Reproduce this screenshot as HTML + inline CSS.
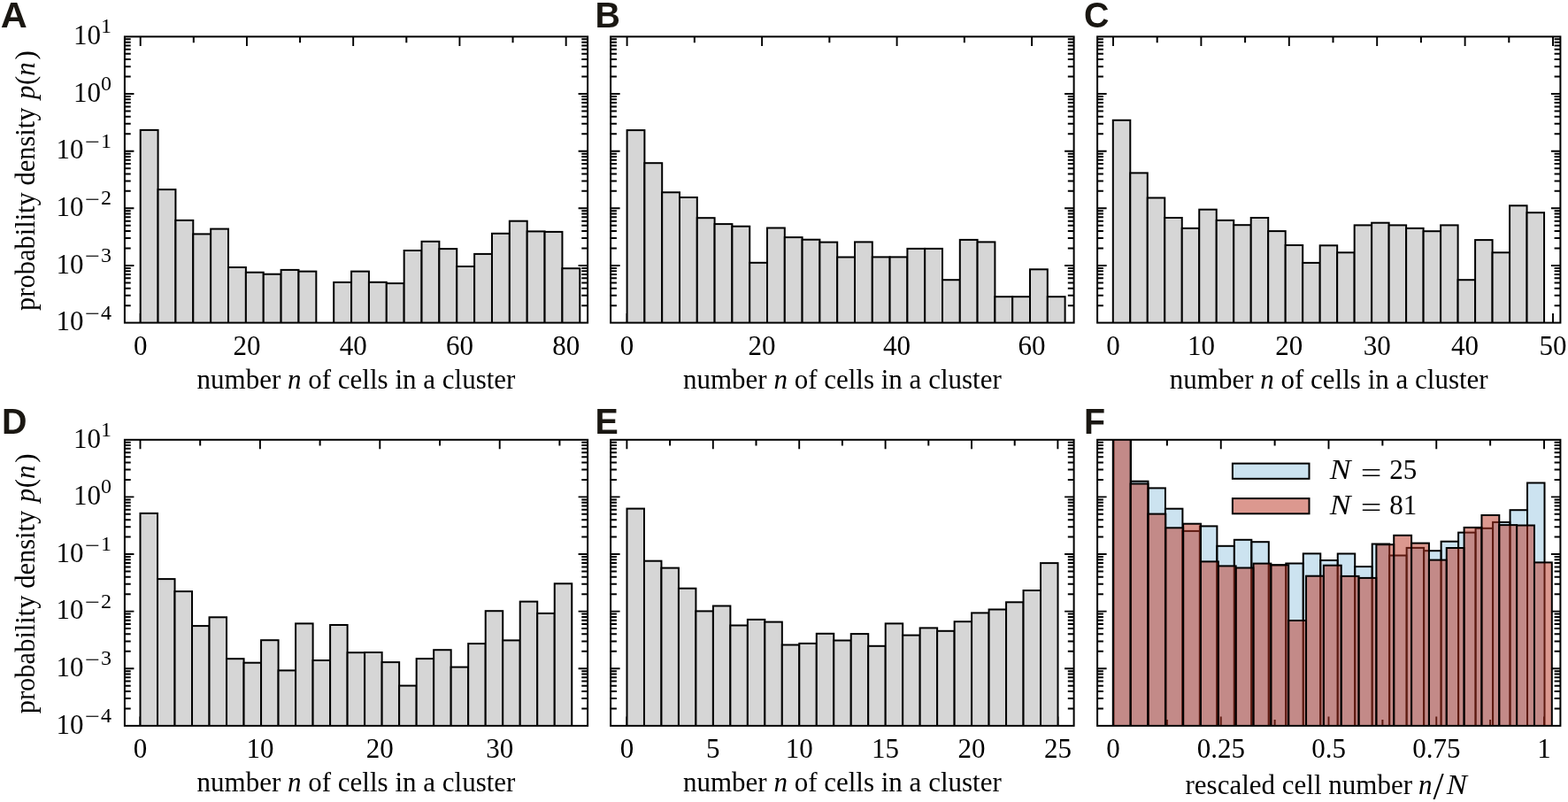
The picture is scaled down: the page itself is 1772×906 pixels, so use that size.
<!DOCTYPE html>
<html><head><meta charset="utf-8"><title>Cluster size distributions</title>
<style>
html,body{margin:0;padding:0;background:#fff;}
body{width:1772px;height:906px;overflow:hidden;}
svg{display:block;}
.t{font-family:'Liberation Serif', 'DejaVu Serif', serif;font-size:31.0px;fill:#000;}
.i{font-style:italic;}
.s{font-family:'Liberation Serif', 'DejaVu Serif', serif;font-size:24.0px;fill:#000;}
.L{font-family:'Liberation Sans', Arial, sans-serif;font-weight:bold;font-size:41.5px;fill:#1a1712;}
</style></head>
<body>
<svg width="1772" height="906" viewBox="0 0 1772 906">
<rect width="1772" height="906" fill="#fff"/>
<clipPath id="clipA"><rect x="140.9" y="41.4" width="523.2" height="323.2"/></clipPath>
<path d="M158.7 41.4v10.5M158.7 364.6v-10.5M278.94 41.4v10.5M278.94 364.6v-10.5M399.18 41.4v10.5M399.18 364.6v-10.5M519.42 41.4v10.5M519.42 364.6v-10.5M639.66 41.4v10.5M639.66 364.6v-10.5" stroke="#000" stroke-width="1.9" fill="none"/>
<path d="M218.82 41.4v6.8M218.82 364.6v-6.8M339.06 41.4v6.8M339.06 364.6v-6.8M459.3 41.4v6.8M459.3 364.6v-6.8M579.54 41.4v6.8M579.54 364.6v-6.8M140.9 345.14h6.8M664.1 345.14h-6.8M140.9 333.76h6.8M664.1 333.76h-6.8M140.9 325.68h6.8M664.1 325.68h-6.8M140.9 319.42h6.8M664.1 319.42h-6.8M140.9 314.3h6.8M664.1 314.3h-6.8M140.9 309.97h6.8M664.1 309.97h-6.8M140.9 306.22h6.8M664.1 306.22h-6.8M140.9 302.92h6.8M664.1 302.92h-6.8M140.9 280.5h6.8M664.1 280.5h-6.8M140.9 269.12h6.8M664.1 269.12h-6.8M140.9 261.04h6.8M664.1 261.04h-6.8M140.9 254.78h6.8M664.1 254.78h-6.8M140.9 249.66h6.8M664.1 249.66h-6.8M140.9 245.33h6.8M664.1 245.33h-6.8M140.9 241.58h6.8M664.1 241.58h-6.8M140.9 238.28h6.8M664.1 238.28h-6.8M140.9 215.86h6.8M664.1 215.86h-6.8M140.9 204.48h6.8M664.1 204.48h-6.8M140.9 196.4h6.8M664.1 196.4h-6.8M140.9 190.14h6.8M664.1 190.14h-6.8M140.9 185.02h6.8M664.1 185.02h-6.8M140.9 180.69h6.8M664.1 180.69h-6.8M140.9 176.94h6.8M664.1 176.94h-6.8M140.9 173.64h6.8M664.1 173.64h-6.8M140.9 151.22h6.8M664.1 151.22h-6.8M140.9 139.84h6.8M664.1 139.84h-6.8M140.9 131.76h6.8M664.1 131.76h-6.8M140.9 125.5h6.8M664.1 125.5h-6.8M140.9 120.38h6.8M664.1 120.38h-6.8M140.9 116.05h6.8M664.1 116.05h-6.8M140.9 112.3h6.8M664.1 112.3h-6.8M140.9 109h6.8M664.1 109h-6.8M140.9 86.58h6.8M664.1 86.58h-6.8M140.9 75.2h6.8M664.1 75.2h-6.8M140.9 67.12h6.8M664.1 67.12h-6.8M140.9 60.86h6.8M664.1 60.86h-6.8M140.9 55.74h6.8M664.1 55.74h-6.8M140.9 51.41h6.8M664.1 51.41h-6.8M140.9 47.66h6.8M664.1 47.66h-6.8M140.9 44.36h6.8M664.1 44.36h-6.8" stroke="#000" stroke-width="2.0" fill="none"/>
<path d="M140.9 299.96h10.5M664.1 299.96h-10.5M140.9 235.32h10.5M664.1 235.32h-10.5M140.9 170.68h10.5M664.1 170.68h-10.5M140.9 106.04h10.5M664.1 106.04h-10.5" stroke="#000" stroke-width="1.9" fill="none"/>
<g clip-path="url(#clipA)">
<rect x="158.7" y="146.9" width="19.86" height="222.7" fill="#d6d6d6" stroke="#000" stroke-width="2.0"/>
<rect x="178.56" y="214.1" width="19.86" height="155.5" fill="#d6d6d6" stroke="#000" stroke-width="2.0"/>
<rect x="198.43" y="248.9" width="19.86" height="120.7" fill="#d6d6d6" stroke="#000" stroke-width="2.0"/>
<rect x="218.29" y="264.4" width="19.86" height="105.2" fill="#d6d6d6" stroke="#000" stroke-width="2.0"/>
<rect x="238.16" y="258.6" width="19.86" height="111" fill="#d6d6d6" stroke="#000" stroke-width="2.0"/>
<rect x="258.02" y="302" width="19.86" height="67.6" fill="#d6d6d6" stroke="#000" stroke-width="2.0"/>
<rect x="277.88" y="307.7" width="19.86" height="61.9" fill="#d6d6d6" stroke="#000" stroke-width="2.0"/>
<rect x="297.75" y="309.7" width="19.86" height="59.9" fill="#d6d6d6" stroke="#000" stroke-width="2.0"/>
<rect x="317.61" y="304.9" width="19.86" height="64.7" fill="#d6d6d6" stroke="#000" stroke-width="2.0"/>
<rect x="337.48" y="306.6" width="19.86" height="63" fill="#d6d6d6" stroke="#000" stroke-width="2.0"/>
<rect x="377.2" y="318.9" width="19.86" height="50.7" fill="#d6d6d6" stroke="#000" stroke-width="2.0"/>
<rect x="397.07" y="306.6" width="19.86" height="63" fill="#d6d6d6" stroke="#000" stroke-width="2.0"/>
<rect x="416.93" y="318.8" width="19.86" height="50.8" fill="#d6d6d6" stroke="#000" stroke-width="2.0"/>
<rect x="436.8" y="320.1" width="19.86" height="49.5" fill="#d6d6d6" stroke="#000" stroke-width="2.0"/>
<rect x="456.66" y="283" width="19.86" height="86.6" fill="#d6d6d6" stroke="#000" stroke-width="2.0"/>
<rect x="476.52" y="272.8" width="19.86" height="96.8" fill="#d6d6d6" stroke="#000" stroke-width="2.0"/>
<rect x="496.39" y="281.1" width="19.86" height="88.5" fill="#d6d6d6" stroke="#000" stroke-width="2.0"/>
<rect x="516.25" y="301" width="19.86" height="68.6" fill="#d6d6d6" stroke="#000" stroke-width="2.0"/>
<rect x="536.12" y="286.9" width="19.86" height="82.7" fill="#d6d6d6" stroke="#000" stroke-width="2.0"/>
<rect x="555.98" y="263.8" width="19.86" height="105.8" fill="#d6d6d6" stroke="#000" stroke-width="2.0"/>
<rect x="575.84" y="249.7" width="19.86" height="119.9" fill="#d6d6d6" stroke="#000" stroke-width="2.0"/>
<rect x="595.71" y="261.4" width="19.86" height="108.2" fill="#d6d6d6" stroke="#000" stroke-width="2.0"/>
<rect x="615.57" y="261.9" width="19.86" height="107.7" fill="#d6d6d6" stroke="#000" stroke-width="2.0"/>
<rect x="635.44" y="303.2" width="19.86" height="66.4" fill="#d6d6d6" stroke="#000" stroke-width="2.0"/>
</g>
<rect x="140.9" y="41.4" width="523.2" height="323.2" fill="none" stroke="#000" stroke-width="2.0"/>
<text x="158.7" y="400.8" text-anchor="middle" class="t">0</text>
<text x="278.94" y="400.8" text-anchor="middle" class="t">20</text>
<text x="399.18" y="400.8" text-anchor="middle" class="t">40</text>
<text x="519.42" y="400.8" text-anchor="middle" class="t">60</text>
<text x="639.66" y="400.8" text-anchor="middle" class="t">80</text>
<text x="402.5" y="439" text-anchor="middle" class="t">number <tspan class="i">n</tspan> of cells in a cluster</text>
<text x="63.6" y="373.3" class="t">10</text>
<text transform="translate(96.0 362.1) scale(1.25 1)" class="s">−</text>
<text x="114.1" y="360.5" class="s">4</text>
<text x="63.6" y="308.66" class="t">10</text>
<text transform="translate(96.0 297.46) scale(1.25 1)" class="s">−</text>
<text x="114.1" y="295.86" class="s">3</text>
<text x="63.6" y="244.02" class="t">10</text>
<text transform="translate(96.0 232.82) scale(1.25 1)" class="s">−</text>
<text x="114.1" y="231.22" class="s">2</text>
<text x="63.6" y="179.38" class="t">10</text>
<text transform="translate(96.0 168.18) scale(1.25 1)" class="s">−</text>
<text x="114.1" y="166.58" class="s">1</text>
<text x="83.1" y="114.74" class="t">10</text>
<text x="114.1" y="101.94" class="s">0</text>
<text x="83.1" y="50.1" class="t">10</text>
<text x="114.1" y="37.3" class="s">1</text>
<text transform="translate(38.8 351) rotate(-90)" class="t"><tspan style="font-size:30.5px">probability density </tspan><tspan class="i" dx="1.9">p</tspan><tspan dx="0.4">(</tspan><tspan class="i">n</tspan><tspan dx="2.8">)</tspan></text>
<clipPath id="clipB"><rect x="690.1" y="41.4" width="523.5" height="323.2"/></clipPath>
<path d="M708.6 41.4v10.5M708.6 364.6v-10.5M861.1 41.4v10.5M861.1 364.6v-10.5M1013.6 41.4v10.5M1013.6 364.6v-10.5M1166.1 41.4v10.5M1166.1 364.6v-10.5" stroke="#000" stroke-width="1.9" fill="none"/>
<path d="M784.85 41.4v6.8M784.85 364.6v-6.8M937.35 41.4v6.8M937.35 364.6v-6.8M1089.85 41.4v6.8M1089.85 364.6v-6.8M690.1 345.14h6.8M1213.6 345.14h-6.8M690.1 333.76h6.8M1213.6 333.76h-6.8M690.1 325.68h6.8M1213.6 325.68h-6.8M690.1 319.42h6.8M1213.6 319.42h-6.8M690.1 314.3h6.8M1213.6 314.3h-6.8M690.1 309.97h6.8M1213.6 309.97h-6.8M690.1 306.22h6.8M1213.6 306.22h-6.8M690.1 302.92h6.8M1213.6 302.92h-6.8M690.1 280.5h6.8M1213.6 280.5h-6.8M690.1 269.12h6.8M1213.6 269.12h-6.8M690.1 261.04h6.8M1213.6 261.04h-6.8M690.1 254.78h6.8M1213.6 254.78h-6.8M690.1 249.66h6.8M1213.6 249.66h-6.8M690.1 245.33h6.8M1213.6 245.33h-6.8M690.1 241.58h6.8M1213.6 241.58h-6.8M690.1 238.28h6.8M1213.6 238.28h-6.8M690.1 215.86h6.8M1213.6 215.86h-6.8M690.1 204.48h6.8M1213.6 204.48h-6.8M690.1 196.4h6.8M1213.6 196.4h-6.8M690.1 190.14h6.8M1213.6 190.14h-6.8M690.1 185.02h6.8M1213.6 185.02h-6.8M690.1 180.69h6.8M1213.6 180.69h-6.8M690.1 176.94h6.8M1213.6 176.94h-6.8M690.1 173.64h6.8M1213.6 173.64h-6.8M690.1 151.22h6.8M1213.6 151.22h-6.8M690.1 139.84h6.8M1213.6 139.84h-6.8M690.1 131.76h6.8M1213.6 131.76h-6.8M690.1 125.5h6.8M1213.6 125.5h-6.8M690.1 120.38h6.8M1213.6 120.38h-6.8M690.1 116.05h6.8M1213.6 116.05h-6.8M690.1 112.3h6.8M1213.6 112.3h-6.8M690.1 109h6.8M1213.6 109h-6.8M690.1 86.58h6.8M1213.6 86.58h-6.8M690.1 75.2h6.8M1213.6 75.2h-6.8M690.1 67.12h6.8M1213.6 67.12h-6.8M690.1 60.86h6.8M1213.6 60.86h-6.8M690.1 55.74h6.8M1213.6 55.74h-6.8M690.1 51.41h6.8M1213.6 51.41h-6.8M690.1 47.66h6.8M1213.6 47.66h-6.8M690.1 44.36h6.8M1213.6 44.36h-6.8" stroke="#000" stroke-width="2.0" fill="none"/>
<path d="M690.1 299.96h10.5M1213.6 299.96h-10.5M690.1 235.32h10.5M1213.6 235.32h-10.5M690.1 170.68h10.5M1213.6 170.68h-10.5M690.1 106.04h10.5M1213.6 106.04h-10.5" stroke="#000" stroke-width="1.9" fill="none"/>
<g clip-path="url(#clipB)">
<rect x="708.6" y="147.1" width="19.8" height="222.5" fill="#d6d6d6" stroke="#000" stroke-width="2.0"/>
<rect x="728.4" y="184.2" width="19.8" height="185.4" fill="#d6d6d6" stroke="#000" stroke-width="2.0"/>
<rect x="748.2" y="217.3" width="19.8" height="152.3" fill="#d6d6d6" stroke="#000" stroke-width="2.0"/>
<rect x="768" y="223" width="19.8" height="146.6" fill="#d6d6d6" stroke="#000" stroke-width="2.0"/>
<rect x="787.8" y="246.2" width="19.8" height="123.4" fill="#d6d6d6" stroke="#000" stroke-width="2.0"/>
<rect x="807.6" y="253.1" width="19.8" height="116.5" fill="#d6d6d6" stroke="#000" stroke-width="2.0"/>
<rect x="827.4" y="255.7" width="19.8" height="113.9" fill="#d6d6d6" stroke="#000" stroke-width="2.0"/>
<rect x="847.2" y="296.8" width="19.8" height="72.8" fill="#d6d6d6" stroke="#000" stroke-width="2.0"/>
<rect x="867" y="257.5" width="19.8" height="112.1" fill="#d6d6d6" stroke="#000" stroke-width="2.0"/>
<rect x="886.8" y="268.1" width="19.8" height="101.5" fill="#d6d6d6" stroke="#000" stroke-width="2.0"/>
<rect x="906.6" y="270.7" width="19.8" height="98.9" fill="#d6d6d6" stroke="#000" stroke-width="2.0"/>
<rect x="926.4" y="273.6" width="19.8" height="96" fill="#d6d6d6" stroke="#000" stroke-width="2.0"/>
<rect x="946.2" y="290.5" width="19.8" height="79.1" fill="#d6d6d6" stroke="#000" stroke-width="2.0"/>
<rect x="966" y="273.4" width="19.8" height="96.2" fill="#d6d6d6" stroke="#000" stroke-width="2.0"/>
<rect x="985.8" y="290.4" width="19.8" height="79.2" fill="#d6d6d6" stroke="#000" stroke-width="2.0"/>
<rect x="1005.6" y="290.4" width="19.8" height="79.2" fill="#d6d6d6" stroke="#000" stroke-width="2.0"/>
<rect x="1025.4" y="280.9" width="19.8" height="88.7" fill="#d6d6d6" stroke="#000" stroke-width="2.0"/>
<rect x="1045.2" y="280.9" width="19.8" height="88.7" fill="#d6d6d6" stroke="#000" stroke-width="2.0"/>
<rect x="1065" y="316.2" width="19.8" height="53.4" fill="#d6d6d6" stroke="#000" stroke-width="2.0"/>
<rect x="1084.8" y="270.9" width="19.8" height="98.7" fill="#d6d6d6" stroke="#000" stroke-width="2.0"/>
<rect x="1104.6" y="273.4" width="19.8" height="96.2" fill="#d6d6d6" stroke="#000" stroke-width="2.0"/>
<rect x="1124.4" y="335.2" width="19.8" height="34.4" fill="#d6d6d6" stroke="#000" stroke-width="2.0"/>
<rect x="1144.2" y="335.2" width="19.8" height="34.4" fill="#d6d6d6" stroke="#000" stroke-width="2.0"/>
<rect x="1164" y="304.3" width="19.8" height="65.3" fill="#d6d6d6" stroke="#000" stroke-width="2.0"/>
<rect x="1183.8" y="335.2" width="19.8" height="34.4" fill="#d6d6d6" stroke="#000" stroke-width="2.0"/>
</g>
<rect x="690.1" y="41.4" width="523.5" height="323.2" fill="none" stroke="#000" stroke-width="2.0"/>
<text x="708.6" y="400.8" text-anchor="middle" class="t">0</text>
<text x="861.1" y="400.8" text-anchor="middle" class="t">20</text>
<text x="1013.6" y="400.8" text-anchor="middle" class="t">40</text>
<text x="1166.1" y="400.8" text-anchor="middle" class="t">60</text>
<text x="951.85" y="439" text-anchor="middle" class="t">number <tspan class="i">n</tspan> of cells in a cluster</text>
<clipPath id="clipC"><rect x="1240.1" y="41.4" width="523.3" height="323.2"/></clipPath>
<path d="M1258 41.4v10.5M1258 364.6v-10.5M1357.4 41.4v10.5M1357.4 364.6v-10.5M1456.8 41.4v10.5M1456.8 364.6v-10.5M1556.2 41.4v10.5M1556.2 364.6v-10.5M1655.6 41.4v10.5M1655.6 364.6v-10.5M1755 41.4v10.5M1755 364.6v-10.5" stroke="#000" stroke-width="1.9" fill="none"/>
<path d="M1307.7 41.4v6.8M1307.7 364.6v-6.8M1407.1 41.4v6.8M1407.1 364.6v-6.8M1506.5 41.4v6.8M1506.5 364.6v-6.8M1605.9 41.4v6.8M1605.9 364.6v-6.8M1705.3 41.4v6.8M1705.3 364.6v-6.8M1240.1 345.14h6.8M1763.4 345.14h-6.8M1240.1 333.76h6.8M1763.4 333.76h-6.8M1240.1 325.68h6.8M1763.4 325.68h-6.8M1240.1 319.42h6.8M1763.4 319.42h-6.8M1240.1 314.3h6.8M1763.4 314.3h-6.8M1240.1 309.97h6.8M1763.4 309.97h-6.8M1240.1 306.22h6.8M1763.4 306.22h-6.8M1240.1 302.92h6.8M1763.4 302.92h-6.8M1240.1 280.5h6.8M1763.4 280.5h-6.8M1240.1 269.12h6.8M1763.4 269.12h-6.8M1240.1 261.04h6.8M1763.4 261.04h-6.8M1240.1 254.78h6.8M1763.4 254.78h-6.8M1240.1 249.66h6.8M1763.4 249.66h-6.8M1240.1 245.33h6.8M1763.4 245.33h-6.8M1240.1 241.58h6.8M1763.4 241.58h-6.8M1240.1 238.28h6.8M1763.4 238.28h-6.8M1240.1 215.86h6.8M1763.4 215.86h-6.8M1240.1 204.48h6.8M1763.4 204.48h-6.8M1240.1 196.4h6.8M1763.4 196.4h-6.8M1240.1 190.14h6.8M1763.4 190.14h-6.8M1240.1 185.02h6.8M1763.4 185.02h-6.8M1240.1 180.69h6.8M1763.4 180.69h-6.8M1240.1 176.94h6.8M1763.4 176.94h-6.8M1240.1 173.64h6.8M1763.4 173.64h-6.8M1240.1 151.22h6.8M1763.4 151.22h-6.8M1240.1 139.84h6.8M1763.4 139.84h-6.8M1240.1 131.76h6.8M1763.4 131.76h-6.8M1240.1 125.5h6.8M1763.4 125.5h-6.8M1240.1 120.38h6.8M1763.4 120.38h-6.8M1240.1 116.05h6.8M1763.4 116.05h-6.8M1240.1 112.3h6.8M1763.4 112.3h-6.8M1240.1 109h6.8M1763.4 109h-6.8M1240.1 86.58h6.8M1763.4 86.58h-6.8M1240.1 75.2h6.8M1763.4 75.2h-6.8M1240.1 67.12h6.8M1763.4 67.12h-6.8M1240.1 60.86h6.8M1763.4 60.86h-6.8M1240.1 55.74h6.8M1763.4 55.74h-6.8M1240.1 51.41h6.8M1763.4 51.41h-6.8M1240.1 47.66h6.8M1763.4 47.66h-6.8M1240.1 44.36h6.8M1763.4 44.36h-6.8" stroke="#000" stroke-width="2.0" fill="none"/>
<path d="M1240.1 299.96h10.5M1763.4 299.96h-10.5M1240.1 235.32h10.5M1763.4 235.32h-10.5M1240.1 170.68h10.5M1763.4 170.68h-10.5M1240.1 106.04h10.5M1763.4 106.04h-10.5" stroke="#000" stroke-width="1.9" fill="none"/>
<g clip-path="url(#clipC)">
<rect x="1257.8" y="135.8" width="19.49" height="233.8" fill="#d6d6d6" stroke="#000" stroke-width="2.0"/>
<rect x="1277.29" y="195.4" width="19.49" height="174.2" fill="#d6d6d6" stroke="#000" stroke-width="2.0"/>
<rect x="1296.78" y="223.5" width="19.49" height="146.1" fill="#d6d6d6" stroke="#000" stroke-width="2.0"/>
<rect x="1316.27" y="246" width="19.49" height="123.6" fill="#d6d6d6" stroke="#000" stroke-width="2.0"/>
<rect x="1335.76" y="257.9" width="19.49" height="111.7" fill="#d6d6d6" stroke="#000" stroke-width="2.0"/>
<rect x="1355.25" y="236.7" width="19.49" height="132.9" fill="#d6d6d6" stroke="#000" stroke-width="2.0"/>
<rect x="1374.74" y="248.9" width="19.49" height="120.7" fill="#d6d6d6" stroke="#000" stroke-width="2.0"/>
<rect x="1394.23" y="254.2" width="19.49" height="115.4" fill="#d6d6d6" stroke="#000" stroke-width="2.0"/>
<rect x="1413.72" y="246" width="19.49" height="123.6" fill="#d6d6d6" stroke="#000" stroke-width="2.0"/>
<rect x="1433.21" y="261.1" width="19.49" height="108.5" fill="#d6d6d6" stroke="#000" stroke-width="2.0"/>
<rect x="1452.7" y="277" width="19.49" height="92.6" fill="#d6d6d6" stroke="#000" stroke-width="2.0"/>
<rect x="1472.19" y="296.9" width="19.49" height="72.7" fill="#d6d6d6" stroke="#000" stroke-width="2.0"/>
<rect x="1491.68" y="277.3" width="19.49" height="92.3" fill="#d6d6d6" stroke="#000" stroke-width="2.0"/>
<rect x="1511.17" y="285.3" width="19.49" height="84.3" fill="#d6d6d6" stroke="#000" stroke-width="2.0"/>
<rect x="1530.66" y="254.4" width="19.49" height="115.2" fill="#d6d6d6" stroke="#000" stroke-width="2.0"/>
<rect x="1550.15" y="251.7" width="19.49" height="117.9" fill="#d6d6d6" stroke="#000" stroke-width="2.0"/>
<rect x="1569.64" y="254.4" width="19.49" height="115.2" fill="#d6d6d6" stroke="#000" stroke-width="2.0"/>
<rect x="1589.13" y="257.9" width="19.49" height="111.7" fill="#d6d6d6" stroke="#000" stroke-width="2.0"/>
<rect x="1608.62" y="261.2" width="19.49" height="108.4" fill="#d6d6d6" stroke="#000" stroke-width="2.0"/>
<rect x="1628.11" y="254.4" width="19.49" height="115.2" fill="#d6d6d6" stroke="#000" stroke-width="2.0"/>
<rect x="1647.6" y="316.2" width="19.49" height="53.4" fill="#d6d6d6" stroke="#000" stroke-width="2.0"/>
<rect x="1667.09" y="271.1" width="19.49" height="98.5" fill="#d6d6d6" stroke="#000" stroke-width="2.0"/>
<rect x="1686.58" y="285.3" width="19.49" height="84.3" fill="#d6d6d6" stroke="#000" stroke-width="2.0"/>
<rect x="1706.07" y="232.3" width="19.49" height="137.3" fill="#d6d6d6" stroke="#000" stroke-width="2.0"/>
<rect x="1725.56" y="240.2" width="19.49" height="129.4" fill="#d6d6d6" stroke="#000" stroke-width="2.0"/>
</g>
<rect x="1240.1" y="41.4" width="523.3" height="323.2" fill="none" stroke="#000" stroke-width="2.0"/>
<text x="1258" y="400.8" text-anchor="middle" class="t">0</text>
<text x="1357.4" y="400.8" text-anchor="middle" class="t">10</text>
<text x="1456.8" y="400.8" text-anchor="middle" class="t">20</text>
<text x="1556.2" y="400.8" text-anchor="middle" class="t">30</text>
<text x="1655.6" y="400.8" text-anchor="middle" class="t">40</text>
<text x="1755" y="400.8" text-anchor="middle" class="t">50</text>
<text x="1501.75" y="439" text-anchor="middle" class="t">number <tspan class="i">n</tspan> of cells in a cluster</text>
<clipPath id="clipD"><rect x="140.9" y="496.8" width="523.2" height="323.1"/></clipPath>
<path d="M158.5 496.8v10.5M158.5 819.9v-10.5M293.9 496.8v10.5M293.9 819.9v-10.5M429.3 496.8v10.5M429.3 819.9v-10.5M564.7 496.8v10.5M564.7 819.9v-10.5" stroke="#000" stroke-width="1.9" fill="none"/>
<path d="M226.2 496.8v6.8M226.2 819.9v-6.8M361.6 496.8v6.8M361.6 819.9v-6.8M497 496.8v6.8M497 819.9v-6.8M632.4 496.8v6.8M632.4 819.9v-6.8M140.9 800.45h6.8M664.1 800.45h-6.8M140.9 789.07h6.8M664.1 789.07h-6.8M140.9 780.99h6.8M664.1 780.99h-6.8M140.9 774.73h6.8M664.1 774.73h-6.8M140.9 769.62h6.8M664.1 769.62h-6.8M140.9 765.29h6.8M664.1 765.29h-6.8M140.9 761.54h6.8M664.1 761.54h-6.8M140.9 758.24h6.8M664.1 758.24h-6.8M140.9 735.83h6.8M664.1 735.83h-6.8M140.9 724.45h6.8M664.1 724.45h-6.8M140.9 716.37h6.8M664.1 716.37h-6.8M140.9 710.11h6.8M664.1 710.11h-6.8M140.9 705h6.8M664.1 705h-6.8M140.9 700.67h6.8M664.1 700.67h-6.8M140.9 696.92h6.8M664.1 696.92h-6.8M140.9 693.62h6.8M664.1 693.62h-6.8M140.9 671.21h6.8M664.1 671.21h-6.8M140.9 659.83h6.8M664.1 659.83h-6.8M140.9 651.75h6.8M664.1 651.75h-6.8M140.9 645.49h6.8M664.1 645.49h-6.8M140.9 640.38h6.8M664.1 640.38h-6.8M140.9 636.05h6.8M664.1 636.05h-6.8M140.9 632.3h6.8M664.1 632.3h-6.8M140.9 629h6.8M664.1 629h-6.8M140.9 606.59h6.8M664.1 606.59h-6.8M140.9 595.21h6.8M664.1 595.21h-6.8M140.9 587.13h6.8M664.1 587.13h-6.8M140.9 580.87h6.8M664.1 580.87h-6.8M140.9 575.76h6.8M664.1 575.76h-6.8M140.9 571.43h6.8M664.1 571.43h-6.8M140.9 567.68h6.8M664.1 567.68h-6.8M140.9 564.38h6.8M664.1 564.38h-6.8M140.9 541.97h6.8M664.1 541.97h-6.8M140.9 530.59h6.8M664.1 530.59h-6.8M140.9 522.51h6.8M664.1 522.51h-6.8M140.9 516.25h6.8M664.1 516.25h-6.8M140.9 511.14h6.8M664.1 511.14h-6.8M140.9 506.81h6.8M664.1 506.81h-6.8M140.9 503.06h6.8M664.1 503.06h-6.8M140.9 499.76h6.8M664.1 499.76h-6.8" stroke="#000" stroke-width="2.0" fill="none"/>
<path d="M140.9 755.28h10.5M664.1 755.28h-10.5M140.9 690.66h10.5M664.1 690.66h-10.5M140.9 626.04h10.5M664.1 626.04h-10.5M140.9 561.42h10.5M664.1 561.42h-10.5" stroke="#000" stroke-width="1.9" fill="none"/>
<g clip-path="url(#clipD)">
<rect x="158.5" y="579.9" width="19.51" height="245" fill="#d6d6d6" stroke="#000" stroke-width="2.0"/>
<rect x="178.01" y="654.1" width="19.51" height="170.8" fill="#d6d6d6" stroke="#000" stroke-width="2.0"/>
<rect x="197.52" y="668.1" width="19.51" height="156.8" fill="#d6d6d6" stroke="#000" stroke-width="2.0"/>
<rect x="217.03" y="707.1" width="19.51" height="117.8" fill="#d6d6d6" stroke="#000" stroke-width="2.0"/>
<rect x="236.54" y="697.3" width="19.51" height="127.6" fill="#d6d6d6" stroke="#000" stroke-width="2.0"/>
<rect x="256.05" y="744.2" width="19.51" height="80.7" fill="#d6d6d6" stroke="#000" stroke-width="2.0"/>
<rect x="275.56" y="748.7" width="19.51" height="76.2" fill="#d6d6d6" stroke="#000" stroke-width="2.0"/>
<rect x="295.07" y="723.2" width="19.51" height="101.7" fill="#d6d6d6" stroke="#000" stroke-width="2.0"/>
<rect x="314.58" y="757.4" width="19.51" height="67.5" fill="#d6d6d6" stroke="#000" stroke-width="2.0"/>
<rect x="334.09" y="704.4" width="19.51" height="120.5" fill="#d6d6d6" stroke="#000" stroke-width="2.0"/>
<rect x="353.6" y="746" width="19.51" height="78.9" fill="#d6d6d6" stroke="#000" stroke-width="2.0"/>
<rect x="373.11" y="706" width="19.51" height="118.9" fill="#d6d6d6" stroke="#000" stroke-width="2.0"/>
<rect x="392.62" y="737.2" width="19.51" height="87.7" fill="#d6d6d6" stroke="#000" stroke-width="2.0"/>
<rect x="412.13" y="737" width="19.51" height="87.9" fill="#d6d6d6" stroke="#000" stroke-width="2.0"/>
<rect x="431.64" y="748.1" width="19.51" height="76.8" fill="#d6d6d6" stroke="#000" stroke-width="2.0"/>
<rect x="451.15" y="774.6" width="19.51" height="50.3" fill="#d6d6d6" stroke="#000" stroke-width="2.0"/>
<rect x="470.66" y="744.1" width="19.51" height="80.8" fill="#d6d6d6" stroke="#000" stroke-width="2.0"/>
<rect x="490.17" y="734.2" width="19.51" height="90.7" fill="#d6d6d6" stroke="#000" stroke-width="2.0"/>
<rect x="509.68" y="753.6" width="19.51" height="71.3" fill="#d6d6d6" stroke="#000" stroke-width="2.0"/>
<rect x="529.19" y="727.1" width="19.51" height="97.8" fill="#d6d6d6" stroke="#000" stroke-width="2.0"/>
<rect x="548.7" y="690.2" width="19.51" height="134.7" fill="#d6d6d6" stroke="#000" stroke-width="2.0"/>
<rect x="568.21" y="723.4" width="19.51" height="101.5" fill="#d6d6d6" stroke="#000" stroke-width="2.0"/>
<rect x="587.72" y="679.6" width="19.51" height="145.3" fill="#d6d6d6" stroke="#000" stroke-width="2.0"/>
<rect x="607.23" y="692.9" width="19.51" height="132" fill="#d6d6d6" stroke="#000" stroke-width="2.0"/>
<rect x="626.74" y="659.3" width="19.51" height="165.6" fill="#d6d6d6" stroke="#000" stroke-width="2.0"/>
</g>
<rect x="140.9" y="496.8" width="523.2" height="323.1" fill="none" stroke="#000" stroke-width="2.0"/>
<text x="158.5" y="856.2" text-anchor="middle" class="t">0</text>
<text x="293.9" y="856.2" text-anchor="middle" class="t">10</text>
<text x="429.3" y="856.2" text-anchor="middle" class="t">20</text>
<text x="564.7" y="856.2" text-anchor="middle" class="t">30</text>
<text x="402.5" y="894.4" text-anchor="middle" class="t">number <tspan class="i">n</tspan> of cells in a cluster</text>
<text x="63.6" y="828.6" class="t">10</text>
<text transform="translate(96.0 817.4) scale(1.25 1)" class="s">−</text>
<text x="114.1" y="815.8" class="s">4</text>
<text x="63.6" y="763.98" class="t">10</text>
<text transform="translate(96.0 752.78) scale(1.25 1)" class="s">−</text>
<text x="114.1" y="751.18" class="s">3</text>
<text x="63.6" y="699.36" class="t">10</text>
<text transform="translate(96.0 688.16) scale(1.25 1)" class="s">−</text>
<text x="114.1" y="686.56" class="s">2</text>
<text x="63.6" y="634.74" class="t">10</text>
<text transform="translate(96.0 623.54) scale(1.25 1)" class="s">−</text>
<text x="114.1" y="621.94" class="s">1</text>
<text x="83.1" y="570.12" class="t">10</text>
<text x="114.1" y="557.32" class="s">0</text>
<text x="83.1" y="505.5" class="t">10</text>
<text x="114.1" y="492.7" class="s">1</text>
<text transform="translate(38.8 806.3) rotate(-90)" class="t"><tspan style="font-size:30.5px">probability density </tspan><tspan class="i" dx="1.9">p</tspan><tspan dx="0.4">(</tspan><tspan class="i">n</tspan><tspan dx="2.8">)</tspan></text>
<clipPath id="clipE"><rect x="690.1" y="496.8" width="523.5" height="323.1"/></clipPath>
<path d="M708.4 496.8v10.5M708.4 819.9v-10.5M805.8 496.8v10.5M805.8 819.9v-10.5M903.2 496.8v10.5M903.2 819.9v-10.5M1000.6 496.8v10.5M1000.6 819.9v-10.5M1098 496.8v10.5M1098 819.9v-10.5M1195.4 496.8v10.5M1195.4 819.9v-10.5" stroke="#000" stroke-width="1.9" fill="none"/>
<path d="M757.1 496.8v6.8M757.1 819.9v-6.8M854.5 496.8v6.8M854.5 819.9v-6.8M951.9 496.8v6.8M951.9 819.9v-6.8M1049.3 496.8v6.8M1049.3 819.9v-6.8M1146.7 496.8v6.8M1146.7 819.9v-6.8M690.1 800.45h6.8M1213.6 800.45h-6.8M690.1 789.07h6.8M1213.6 789.07h-6.8M690.1 780.99h6.8M1213.6 780.99h-6.8M690.1 774.73h6.8M1213.6 774.73h-6.8M690.1 769.62h6.8M1213.6 769.62h-6.8M690.1 765.29h6.8M1213.6 765.29h-6.8M690.1 761.54h6.8M1213.6 761.54h-6.8M690.1 758.24h6.8M1213.6 758.24h-6.8M690.1 735.83h6.8M1213.6 735.83h-6.8M690.1 724.45h6.8M1213.6 724.45h-6.8M690.1 716.37h6.8M1213.6 716.37h-6.8M690.1 710.11h6.8M1213.6 710.11h-6.8M690.1 705h6.8M1213.6 705h-6.8M690.1 700.67h6.8M1213.6 700.67h-6.8M690.1 696.92h6.8M1213.6 696.92h-6.8M690.1 693.62h6.8M1213.6 693.62h-6.8M690.1 671.21h6.8M1213.6 671.21h-6.8M690.1 659.83h6.8M1213.6 659.83h-6.8M690.1 651.75h6.8M1213.6 651.75h-6.8M690.1 645.49h6.8M1213.6 645.49h-6.8M690.1 640.38h6.8M1213.6 640.38h-6.8M690.1 636.05h6.8M1213.6 636.05h-6.8M690.1 632.3h6.8M1213.6 632.3h-6.8M690.1 629h6.8M1213.6 629h-6.8M690.1 606.59h6.8M1213.6 606.59h-6.8M690.1 595.21h6.8M1213.6 595.21h-6.8M690.1 587.13h6.8M1213.6 587.13h-6.8M690.1 580.87h6.8M1213.6 580.87h-6.8M690.1 575.76h6.8M1213.6 575.76h-6.8M690.1 571.43h6.8M1213.6 571.43h-6.8M690.1 567.68h6.8M1213.6 567.68h-6.8M690.1 564.38h6.8M1213.6 564.38h-6.8M690.1 541.97h6.8M1213.6 541.97h-6.8M690.1 530.59h6.8M1213.6 530.59h-6.8M690.1 522.51h6.8M1213.6 522.51h-6.8M690.1 516.25h6.8M1213.6 516.25h-6.8M690.1 511.14h6.8M1213.6 511.14h-6.8M690.1 506.81h6.8M1213.6 506.81h-6.8M690.1 503.06h6.8M1213.6 503.06h-6.8M690.1 499.76h6.8M1213.6 499.76h-6.8" stroke="#000" stroke-width="2.0" fill="none"/>
<path d="M690.1 755.28h10.5M1213.6 755.28h-10.5M690.1 690.66h10.5M1213.6 690.66h-10.5M690.1 626.04h10.5M1213.6 626.04h-10.5M690.1 561.42h10.5M1213.6 561.42h-10.5" stroke="#000" stroke-width="1.9" fill="none"/>
<g clip-path="url(#clipE)">
<rect x="708.5" y="574.6" width="19.48" height="250.3" fill="#d6d6d6" stroke="#000" stroke-width="2.0"/>
<rect x="727.98" y="633.7" width="19.48" height="191.2" fill="#d6d6d6" stroke="#000" stroke-width="2.0"/>
<rect x="747.46" y="641.6" width="19.48" height="183.3" fill="#d6d6d6" stroke="#000" stroke-width="2.0"/>
<rect x="766.94" y="664.7" width="19.48" height="160.2" fill="#d6d6d6" stroke="#000" stroke-width="2.0"/>
<rect x="786.42" y="690.4" width="19.48" height="134.5" fill="#d6d6d6" stroke="#000" stroke-width="2.0"/>
<rect x="805.9" y="684.5" width="19.48" height="140.4" fill="#d6d6d6" stroke="#000" stroke-width="2.0"/>
<rect x="825.38" y="706.5" width="19.48" height="118.4" fill="#d6d6d6" stroke="#000" stroke-width="2.0"/>
<rect x="844.86" y="699.9" width="19.48" height="125" fill="#d6d6d6" stroke="#000" stroke-width="2.0"/>
<rect x="864.34" y="702.6" width="19.48" height="122.3" fill="#d6d6d6" stroke="#000" stroke-width="2.0"/>
<rect x="883.82" y="728.5" width="19.48" height="96.4" fill="#d6d6d6" stroke="#000" stroke-width="2.0"/>
<rect x="903.3" y="726.9" width="19.48" height="98" fill="#d6d6d6" stroke="#000" stroke-width="2.0"/>
<rect x="922.78" y="715.8" width="19.48" height="109.1" fill="#d6d6d6" stroke="#000" stroke-width="2.0"/>
<rect x="942.26" y="723.5" width="19.48" height="101.4" fill="#d6d6d6" stroke="#000" stroke-width="2.0"/>
<rect x="961.74" y="716.1" width="19.48" height="108.8" fill="#d6d6d6" stroke="#000" stroke-width="2.0"/>
<rect x="981.22" y="729.8" width="19.48" height="95.1" fill="#d6d6d6" stroke="#000" stroke-width="2.0"/>
<rect x="1000.7" y="704.4" width="19.48" height="120.5" fill="#d6d6d6" stroke="#000" stroke-width="2.0"/>
<rect x="1020.18" y="717.6" width="19.48" height="107.3" fill="#d6d6d6" stroke="#000" stroke-width="2.0"/>
<rect x="1039.66" y="709.4" width="19.48" height="115.5" fill="#d6d6d6" stroke="#000" stroke-width="2.0"/>
<rect x="1059.14" y="712.8" width="19.48" height="112.1" fill="#d6d6d6" stroke="#000" stroke-width="2.0"/>
<rect x="1078.62" y="702.2" width="19.48" height="122.7" fill="#d6d6d6" stroke="#000" stroke-width="2.0"/>
<rect x="1098.1" y="692.4" width="19.48" height="132.5" fill="#d6d6d6" stroke="#000" stroke-width="2.0"/>
<rect x="1117.58" y="688.5" width="19.48" height="136.4" fill="#d6d6d6" stroke="#000" stroke-width="2.0"/>
<rect x="1137.06" y="680.3" width="19.48" height="144.6" fill="#d6d6d6" stroke="#000" stroke-width="2.0"/>
<rect x="1156.54" y="667" width="19.48" height="157.9" fill="#d6d6d6" stroke="#000" stroke-width="2.0"/>
<rect x="1176.02" y="636.1" width="19.48" height="188.8" fill="#d6d6d6" stroke="#000" stroke-width="2.0"/>
</g>
<rect x="690.1" y="496.8" width="523.5" height="323.1" fill="none" stroke="#000" stroke-width="2.0"/>
<text x="708.4" y="856.2" text-anchor="middle" class="t">0</text>
<text x="805.8" y="856.2" text-anchor="middle" class="t">5</text>
<text x="903.2" y="856.2" text-anchor="middle" class="t">10</text>
<text x="1000.6" y="856.2" text-anchor="middle" class="t">15</text>
<text x="1098" y="856.2" text-anchor="middle" class="t">20</text>
<text x="1195.4" y="856.2" text-anchor="middle" class="t">25</text>
<text x="951.85" y="894.4" text-anchor="middle" class="t">number <tspan class="i">n</tspan> of cells in a cluster</text>
<clipPath id="clipF"><rect x="1240.1" y="496.8" width="523.3" height="323.1"/></clipPath>
<g clip-path="url(#clipF)">
<rect x="1258.5" y="480" width="19.48" height="344.9" fill="rgba(153,199,225,0.5)" stroke="#000" stroke-width="2.0"/>
<rect x="1277.98" y="543.7" width="19.48" height="281.2" fill="rgba(153,199,225,0.5)" stroke="#000" stroke-width="2.0"/>
<rect x="1297.46" y="551.4" width="19.48" height="273.5" fill="rgba(153,199,225,0.5)" stroke="#000" stroke-width="2.0"/>
<rect x="1316.94" y="574.7" width="19.48" height="250.2" fill="rgba(153,199,225,0.5)" stroke="#000" stroke-width="2.0"/>
<rect x="1336.42" y="599.9" width="19.48" height="225" fill="rgba(153,199,225,0.5)" stroke="#000" stroke-width="2.0"/>
<rect x="1355.9" y="594.4" width="19.48" height="230.5" fill="rgba(153,199,225,0.5)" stroke="#000" stroke-width="2.0"/>
<rect x="1375.38" y="616.8" width="19.48" height="208.1" fill="rgba(153,199,225,0.5)" stroke="#000" stroke-width="2.0"/>
<rect x="1394.86" y="609.8" width="19.48" height="215.1" fill="rgba(153,199,225,0.5)" stroke="#000" stroke-width="2.0"/>
<rect x="1414.34" y="612.2" width="19.48" height="212.7" fill="rgba(153,199,225,0.5)" stroke="#000" stroke-width="2.0"/>
<rect x="1433.82" y="638.4" width="19.48" height="186.5" fill="rgba(153,199,225,0.5)" stroke="#000" stroke-width="2.0"/>
<rect x="1453.3" y="636.5" width="19.48" height="188.4" fill="rgba(153,199,225,0.5)" stroke="#000" stroke-width="2.0"/>
<rect x="1472.78" y="625.4" width="19.48" height="199.5" fill="rgba(153,199,225,0.5)" stroke="#000" stroke-width="2.0"/>
<rect x="1492.26" y="633" width="19.48" height="191.9" fill="rgba(153,199,225,0.5)" stroke="#000" stroke-width="2.0"/>
<rect x="1511.74" y="625.5" width="19.48" height="199.4" fill="rgba(153,199,225,0.5)" stroke="#000" stroke-width="2.0"/>
<rect x="1531.22" y="640.1" width="19.48" height="184.8" fill="rgba(153,199,225,0.5)" stroke="#000" stroke-width="2.0"/>
<rect x="1550.7" y="614.5" width="19.48" height="210.4" fill="rgba(153,199,225,0.5)" stroke="#000" stroke-width="2.0"/>
<rect x="1570.18" y="627.5" width="19.48" height="197.4" fill="rgba(153,199,225,0.5)" stroke="#000" stroke-width="2.0"/>
<rect x="1589.66" y="618.9" width="19.48" height="206" fill="rgba(153,199,225,0.5)" stroke="#000" stroke-width="2.0"/>
<rect x="1609.14" y="622.2" width="19.48" height="202.7" fill="rgba(153,199,225,0.5)" stroke="#000" stroke-width="2.0"/>
<rect x="1628.62" y="611.7" width="19.48" height="213.2" fill="rgba(153,199,225,0.5)" stroke="#000" stroke-width="2.0"/>
<rect x="1648.1" y="601.6" width="19.48" height="223.3" fill="rgba(153,199,225,0.5)" stroke="#000" stroke-width="2.0"/>
<rect x="1667.58" y="596.8" width="19.48" height="228.1" fill="rgba(153,199,225,0.5)" stroke="#000" stroke-width="2.0"/>
<rect x="1687.06" y="589.9" width="19.48" height="235" fill="rgba(153,199,225,0.5)" stroke="#000" stroke-width="2.0"/>
<rect x="1706.54" y="576.2" width="19.48" height="248.7" fill="rgba(153,199,225,0.5)" stroke="#000" stroke-width="2.0"/>
<rect x="1726.02" y="545.5" width="19.48" height="279.4" fill="rgba(153,199,225,0.5)" stroke="#000" stroke-width="2.0"/>
</g>
<path d="M1258 496.8v10.5M1258 819.9v-10.5M1379.75 496.8v10.5M1379.75 819.9v-10.5M1501.5 496.8v10.5M1501.5 819.9v-10.5M1623.25 496.8v10.5M1623.25 819.9v-10.5M1745 496.8v10.5M1745 819.9v-10.5" stroke="#000" stroke-width="1.9" fill="none"/>
<path d="M1318.88 496.8v6.8M1318.88 819.9v-6.8M1440.62 496.8v6.8M1440.62 819.9v-6.8M1562.38 496.8v6.8M1562.38 819.9v-6.8M1684.12 496.8v6.8M1684.12 819.9v-6.8M1240.1 800.45h6.8M1763.4 800.45h-6.8M1240.1 789.07h6.8M1763.4 789.07h-6.8M1240.1 780.99h6.8M1763.4 780.99h-6.8M1240.1 774.73h6.8M1763.4 774.73h-6.8M1240.1 769.62h6.8M1763.4 769.62h-6.8M1240.1 765.29h6.8M1763.4 765.29h-6.8M1240.1 761.54h6.8M1763.4 761.54h-6.8M1240.1 758.24h6.8M1763.4 758.24h-6.8M1240.1 735.83h6.8M1763.4 735.83h-6.8M1240.1 724.45h6.8M1763.4 724.45h-6.8M1240.1 716.37h6.8M1763.4 716.37h-6.8M1240.1 710.11h6.8M1763.4 710.11h-6.8M1240.1 705h6.8M1763.4 705h-6.8M1240.1 700.67h6.8M1763.4 700.67h-6.8M1240.1 696.92h6.8M1763.4 696.92h-6.8M1240.1 693.62h6.8M1763.4 693.62h-6.8M1240.1 671.21h6.8M1763.4 671.21h-6.8M1240.1 659.83h6.8M1763.4 659.83h-6.8M1240.1 651.75h6.8M1763.4 651.75h-6.8M1240.1 645.49h6.8M1763.4 645.49h-6.8M1240.1 640.38h6.8M1763.4 640.38h-6.8M1240.1 636.05h6.8M1763.4 636.05h-6.8M1240.1 632.3h6.8M1763.4 632.3h-6.8M1240.1 629h6.8M1763.4 629h-6.8M1240.1 606.59h6.8M1763.4 606.59h-6.8M1240.1 595.21h6.8M1763.4 595.21h-6.8M1240.1 587.13h6.8M1763.4 587.13h-6.8M1240.1 580.87h6.8M1763.4 580.87h-6.8M1240.1 575.76h6.8M1763.4 575.76h-6.8M1240.1 571.43h6.8M1763.4 571.43h-6.8M1240.1 567.68h6.8M1763.4 567.68h-6.8M1240.1 564.38h6.8M1763.4 564.38h-6.8M1240.1 541.97h6.8M1763.4 541.97h-6.8M1240.1 530.59h6.8M1763.4 530.59h-6.8M1240.1 522.51h6.8M1763.4 522.51h-6.8M1240.1 516.25h6.8M1763.4 516.25h-6.8M1240.1 511.14h6.8M1763.4 511.14h-6.8M1240.1 506.81h6.8M1763.4 506.81h-6.8M1240.1 503.06h6.8M1763.4 503.06h-6.8M1240.1 499.76h6.8M1763.4 499.76h-6.8" stroke="#000" stroke-width="2.0" fill="none"/>
<path d="M1240.1 755.28h10.5M1763.4 755.28h-10.5M1240.1 690.66h10.5M1763.4 690.66h-10.5M1240.1 626.04h10.5M1763.4 626.04h-10.5M1240.1 561.42h10.5M1763.4 561.42h-10.5" stroke="#000" stroke-width="1.9" fill="none"/>
<g clip-path="url(#clipF)">
<rect x="1257.8" y="480" width="19.84" height="344.9" fill="rgba(185,49,31,0.5)" stroke="#000" stroke-width="2.0"/>
<rect x="1277.64" y="546.5" width="19.84" height="278.4" fill="rgba(185,49,31,0.5)" stroke="#000" stroke-width="2.0"/>
<rect x="1297.48" y="580.6" width="19.84" height="244.3" fill="rgba(185,49,31,0.5)" stroke="#000" stroke-width="2.0"/>
<rect x="1317.32" y="596.3" width="19.84" height="228.6" fill="rgba(185,49,31,0.5)" stroke="#000" stroke-width="2.0"/>
<rect x="1337.16" y="591.7" width="19.84" height="233.2" fill="rgba(185,49,31,0.5)" stroke="#000" stroke-width="2.0"/>
<rect x="1357" y="634.4" width="19.84" height="190.5" fill="rgba(185,49,31,0.5)" stroke="#000" stroke-width="2.0"/>
<rect x="1376.84" y="639.4" width="19.84" height="185.5" fill="rgba(185,49,31,0.5)" stroke="#000" stroke-width="2.0"/>
<rect x="1396.68" y="641.5" width="19.84" height="183.4" fill="rgba(185,49,31,0.5)" stroke="#000" stroke-width="2.0"/>
<rect x="1416.52" y="636.6" width="19.84" height="188.3" fill="rgba(185,49,31,0.5)" stroke="#000" stroke-width="2.0"/>
<rect x="1436.36" y="638.3" width="19.84" height="186.6" fill="rgba(185,49,31,0.5)" stroke="#000" stroke-width="2.0"/>
<rect x="1456.2" y="701" width="19.84" height="123.9" fill="rgba(185,49,31,0.5)" stroke="#000" stroke-width="2.0"/>
<rect x="1476.04" y="650.7" width="19.84" height="174.2" fill="rgba(185,49,31,0.5)" stroke="#000" stroke-width="2.0"/>
<rect x="1495.88" y="638.7" width="19.84" height="186.2" fill="rgba(185,49,31,0.5)" stroke="#000" stroke-width="2.0"/>
<rect x="1515.72" y="650.9" width="19.84" height="174" fill="rgba(185,49,31,0.5)" stroke="#000" stroke-width="2.0"/>
<rect x="1535.56" y="652.9" width="19.84" height="172" fill="rgba(185,49,31,0.5)" stroke="#000" stroke-width="2.0"/>
<rect x="1555.4" y="615.2" width="19.84" height="209.7" fill="rgba(185,49,31,0.5)" stroke="#000" stroke-width="2.0"/>
<rect x="1575.24" y="604.8" width="19.84" height="220.1" fill="rgba(185,49,31,0.5)" stroke="#000" stroke-width="2.0"/>
<rect x="1595.08" y="613.6" width="19.84" height="211.3" fill="rgba(185,49,31,0.5)" stroke="#000" stroke-width="2.0"/>
<rect x="1614.92" y="632.6" width="19.84" height="192.3" fill="rgba(185,49,31,0.5)" stroke="#000" stroke-width="2.0"/>
<rect x="1634.76" y="619" width="19.84" height="205.9" fill="rgba(185,49,31,0.5)" stroke="#000" stroke-width="2.0"/>
<rect x="1654.6" y="595.9" width="19.84" height="229" fill="rgba(185,49,31,0.5)" stroke="#000" stroke-width="2.0"/>
<rect x="1674.44" y="582" width="19.84" height="242.9" fill="rgba(185,49,31,0.5)" stroke="#000" stroke-width="2.0"/>
<rect x="1694.28" y="593.1" width="19.84" height="231.8" fill="rgba(185,49,31,0.5)" stroke="#000" stroke-width="2.0"/>
<rect x="1714.12" y="593.5" width="19.84" height="231.4" fill="rgba(185,49,31,0.5)" stroke="#000" stroke-width="2.0"/>
<rect x="1733.96" y="635.4" width="19.84" height="189.5" fill="rgba(185,49,31,0.5)" stroke="#000" stroke-width="2.0"/>
</g>
<rect x="1240.1" y="496.8" width="523.3" height="323.1" fill="none" stroke="#000" stroke-width="2.0"/>
<text x="1258" y="856.2" text-anchor="middle" class="t">0</text>
<text x="1379.75" y="856.2" text-anchor="middle" class="t">0.25</text>
<text x="1501.5" y="856.2" text-anchor="middle" class="t">0.5</text>
<text x="1623.25" y="856.2" text-anchor="middle" class="t">0.75</text>
<text x="1745" y="856.2" text-anchor="middle" class="t">1</text>
<text x="1339.5" y="896.6" class="t">rescaled cell number</text>
<text x="1603.0" y="896.6" class="t i">n</text>
<text x="1619.6" y="902.8" class="t" style="font-size:44px">/</text>
<text transform="translate(1634.8 896.6) scale(1.12 1)" class="t i">N</text>
<rect x="1392.9" y="523.6" width="86.6" height="17.2" fill="rgba(153,199,225,0.5)" stroke="#000" stroke-width="2.0"/>
<rect x="1392.9" y="563.1" width="86.6" height="17.2" fill="rgba(185,49,31,0.5)" stroke="#000" stroke-width="2.0"/>
<text transform="translate(1502.7 541.2) scale(1.15 1)" class="t i">N</text>
<text transform="translate(1537.7 544.7) scale(1.35 1)" class="t">=</text>
<text x="1570.3" y="541.2" class="t">25</text>
<text transform="translate(1502.7 580.6) scale(1.15 1)" class="t i">N</text>
<text transform="translate(1537.7 584.1) scale(1.35 1)" class="t">=</text>
<text x="1570.3" y="580.6" class="t">81</text>
<text transform="translate(0.8 31.1) scale(1.0 1)" class="L">A</text>
<text transform="translate(672.5 31.0) scale(0.95 1)" class="L">B</text>
<text transform="translate(1225.0 31.0) scale(0.95 1)" class="L">C</text>
<text transform="translate(2.0 489.9) scale(0.95 1)" class="L">D</text>
<text transform="translate(672.5 489.8) scale(0.95 1)" class="L">E</text>
<text transform="translate(1225.0 489.8) scale(0.95 1)" class="L">F</text>
</svg>
</body></html>
